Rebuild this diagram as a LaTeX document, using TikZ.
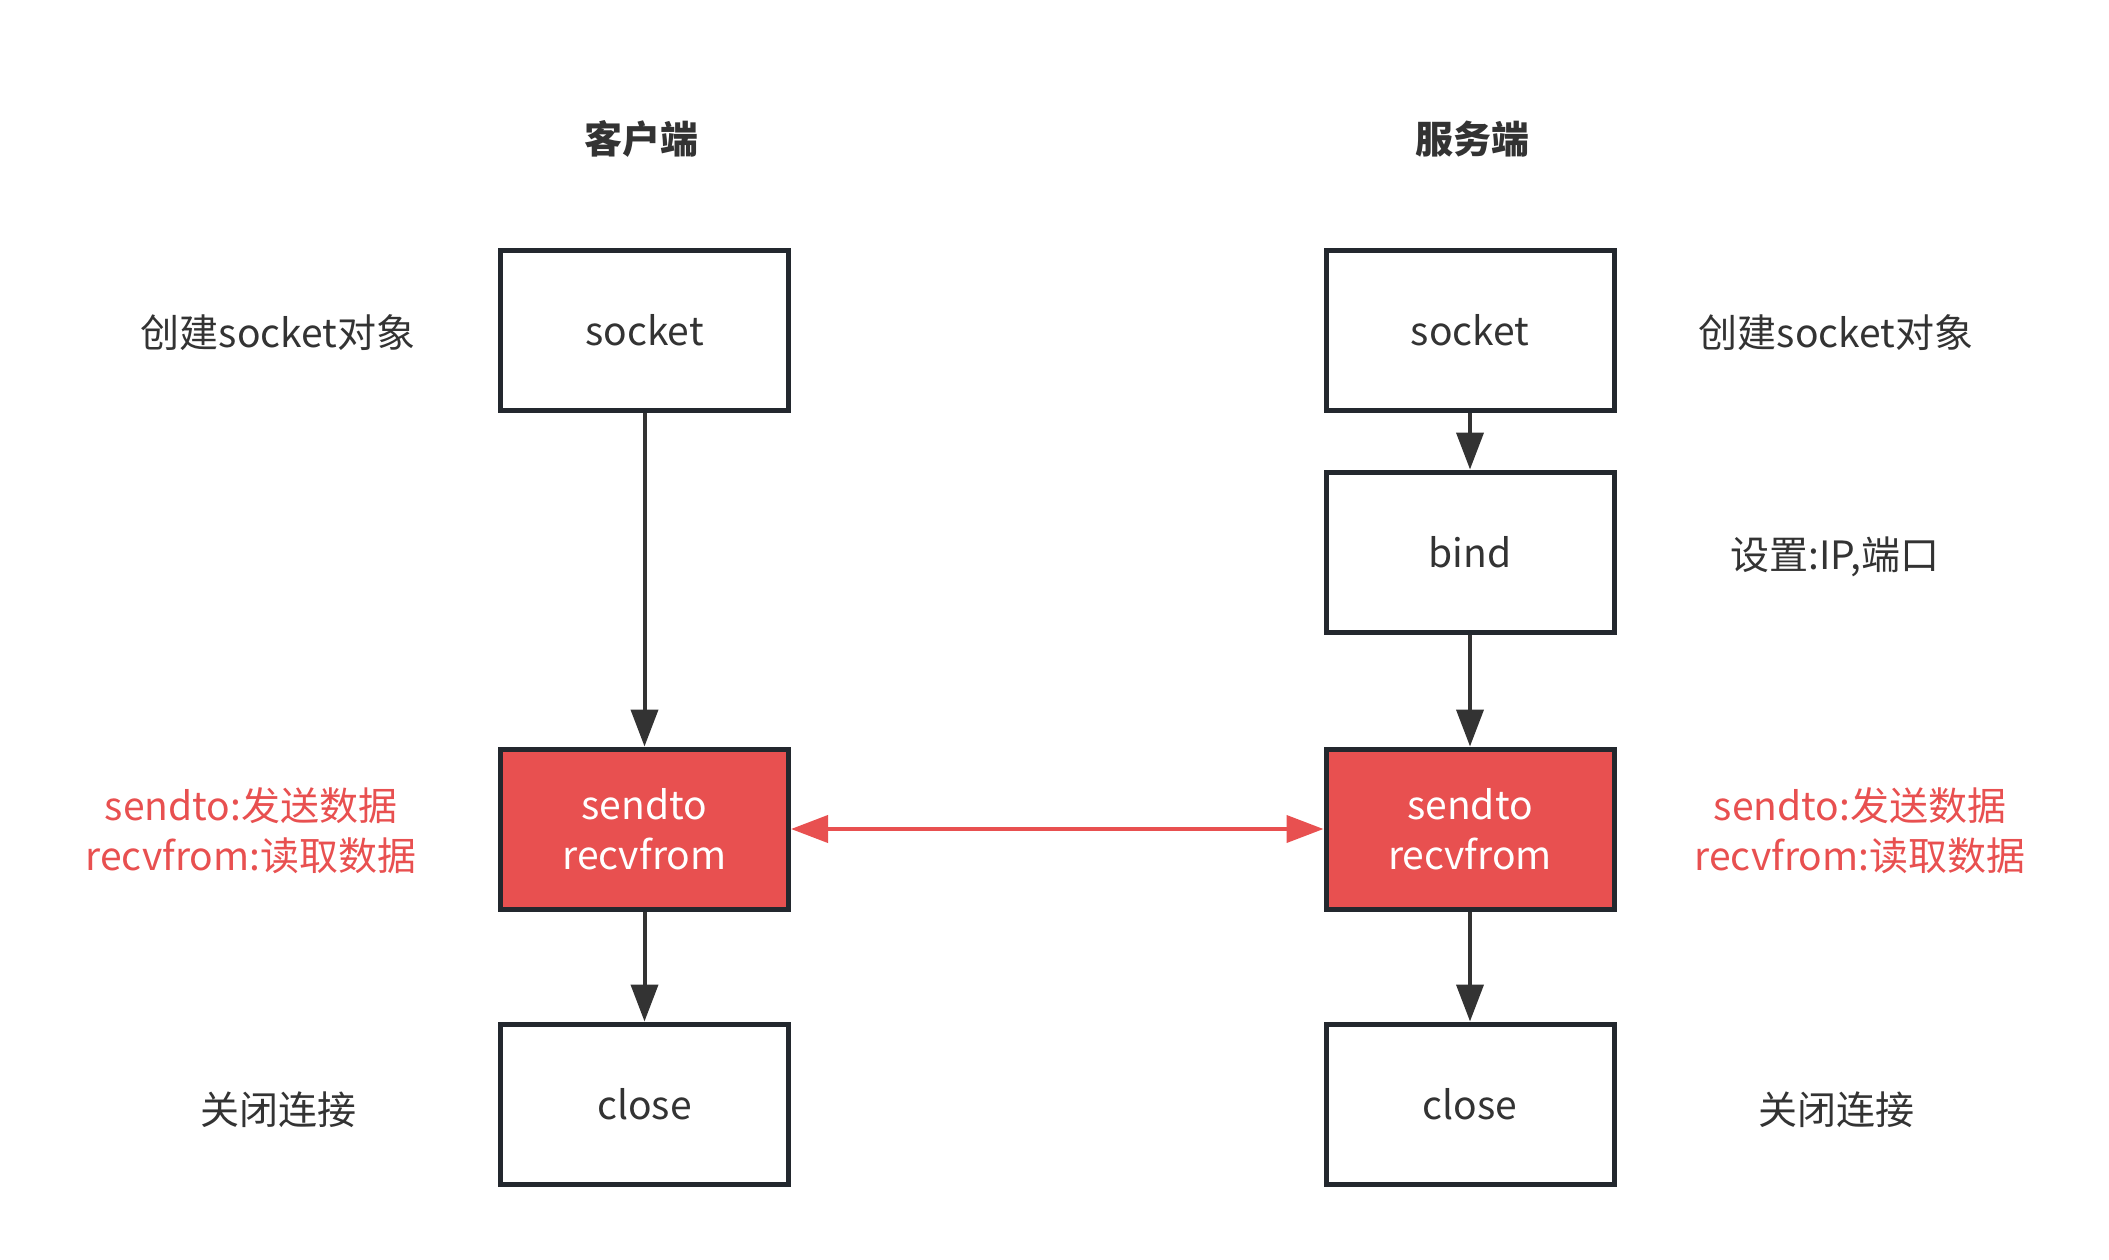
\documentclass[tikz,border=0pt]{standalone}
\usepackage{fontspec}
\setmainfont{Noto Sans CJK SC}
\usetikzlibrary{arrows.meta}
\definecolor{strk}{HTML}{23282E}
\definecolor{txt}{HTML}{333333}
\definecolor{redf}{HTML}{E85050}
\begin{document}
\begin{tikzpicture}[x=1pt,y=-1pt,
  box/.style={draw=strk, line width=5pt, minimum width=288pt, minimum height=160pt,
    inner sep=0pt, align=center, text=txt, font=\fontsize{39}{50}\selectfont},
  redbox/.style={box, fill=redf, text=white},
  lbl/.style={inner sep=0pt, align=center, text=txt, font=\fontsize{39}{50}\selectfont},
  redlbl/.style={lbl, text=redf},
  title/.style={inner sep=0pt, text=txt, font=\fontsize{38}{46}\selectfont\bfseries},
  conn/.style={draw=txt, line width=4pt, -{Triangle[length=37pt,width=27pt]}},
  dconn/.style={draw=redf, line width=4pt, {Triangle[length=37pt,width=27pt]}-{Triangle[length=37pt,width=27pt]}}]
\useasboundingbox (0,0) rectangle (2109,1260);
% titles
\node[title] (tc) at (641,139) {客户端};
\node[title] (ts) at (1472,139) {服务端};
% client column
\node[box] (cs) at (644.5,330) {socket};
\node[redbox] (cr) at (644.5,829) {sendto\\recvfrom};
\node[box] (cc) at (644.5,1104) {close};
% server column
\node[box] (ss) at (1470,330) {socket};
\node[box] (sb) at (1470,552) {bind};
\node[redbox] (sr) at (1470,829) {sendto\\recvfrom};
\node[box] (sc) at (1470,1104) {close};
% labels
\node[lbl] (l1) at (278,333) {创建socket对象};
\node[redlbl] (l2) at (251,831) {sendto:发送数据\\recvfrom:读取数据};
\node[lbl] (l3) at (278,1110) {关闭连接};
\node[lbl] (r1) at (1836,333) {创建socket对象};
\node[lbl] (r2) at (1835,557) {设置:IP,端口};
\node[redlbl] (r3) at (1860,831) {sendto:发送数据\\recvfrom:读取数据};
\node[lbl] (r4) at (1836,1110) {关闭连接};
% connectors
\draw[conn] (cs.south) -- (cr.north);
\draw[conn] (cr.south) -- (cc.north);
\draw[conn] (ss.south) -- (sb.north);
\draw[conn] (sb.south) -- (sr.north);
\draw[conn] (sr.south) -- (sc.north);
\draw[dconn] (cr.east) -- (sr.west);
\end{tikzpicture}
\end{document}
